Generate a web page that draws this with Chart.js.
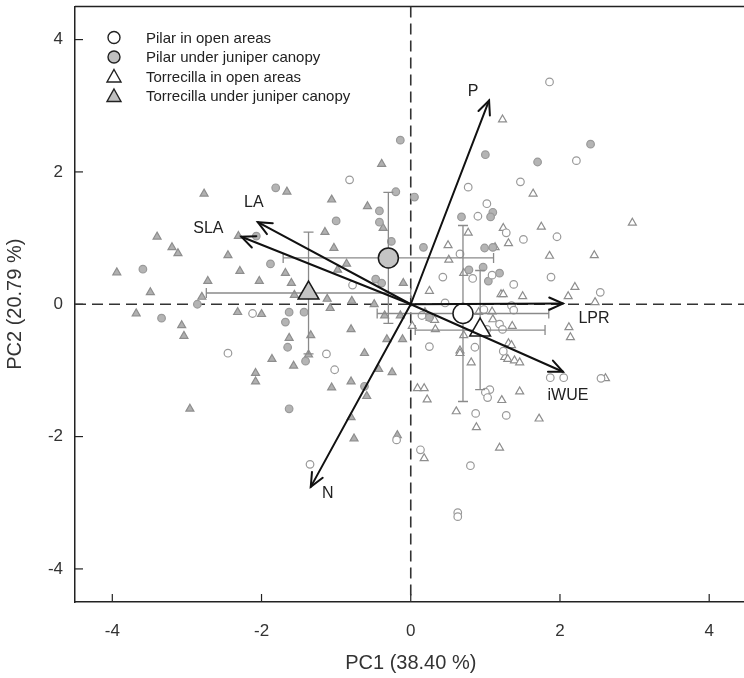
<!DOCTYPE html>
<html>
<head>
<meta charset="utf-8">
<title>PCA biplot</title>
<script src="https://cdn.jsdelivr.net/npm/chart.js"></script>
<style>
  html, body { margin: 0; padding: 0; background: #fff; overflow: hidden; }
  #wrap { width: 760px; height: 678px; overflow: hidden; }
  #chart { display: block; margin-top: -7px; }
</style>
</head>
<body>
<div id="wrap"><canvas id="chart" width="760" height="685"></canvas></div>
<script>
// group labels
const groupNames = [
  "Pilar in open areas",
  "Pilar under juniper canopy",
  "Torrecilla in open areas",
  "Torrecilla under juniper canopy"
];

// individual scores [PC1, PC2]
const pilarOpen = [
  [1.86,3.36],[2.22,2.17],[-0.82,1.88],[0.77,1.77],[1.47,1.85],[0.90,1.33],[1.02,1.52],
  [1.28,1.08],[1.96,1.02],[1.51,0.98],[0.66,0.76],[1.09,0.44],[0.83,0.39],[0.43,0.41],
  [1.38,0.30],[1.88,0.41],[2.54,0.18],[-0.78,0.29],[0.46,0.02],[1.35,-0.02],[1.38,-0.09],
  [0.98,-0.08],[0.15,-0.17],[-2.12,-0.14],[1.19,-0.30],[1.23,-0.38],[1.02,-0.38],
  [0.25,-0.64],[0.86,-0.65],[1.24,-0.71],[-2.45,-0.74],[-1.13,-0.75],[-1.02,-0.99],
  [1.87,-1.11],[2.05,-1.11],[2.55,-1.12],[1.06,-1.29],[1.00,-1.33],[1.03,-1.41],
  [0.87,-1.65],[1.28,-1.68],[-0.19,-2.05],[0.13,-2.20],[0.80,-2.44],[-1.35,-2.42],
  [0.63,-3.15],[0.63,-3.21]
];
const pilarCanopy = [
  [-0.14,2.48],[1.00,2.26],[1.70,2.15],[2.41,2.42],[-0.20,1.70],[0.05,1.62],[-1.81,1.76],
  [-0.42,1.41],[-1.00,1.26],[-0.42,1.24],[-2.07,1.03],[-0.26,0.95],[0.17,0.86],[1.10,1.39],
  [1.07,1.32],[0.68,1.32],[0.99,0.85],[1.10,0.86],[0.78,0.52],[0.97,0.56],[1.19,0.47],
  [1.04,0.35],[-1.88,0.61],[-0.47,0.38],[-0.39,0.32],[-3.59,0.53],[-3.34,-0.21],
  [-1.63,-0.12],[-1.43,-0.12],[-1.68,-0.27],[-1.65,-0.65],[-1.41,-0.86],[-0.62,-1.24],
  [-1.63,-1.58],[0.25,-0.20],[-2.86,0.00]
];
const torrecillaOpen = [
  [1.23,2.79],[1.64,1.67],[0.77,1.08],[1.24,1.15],[1.31,0.92],[1.75,1.17],[0.50,0.89],
  [1.13,0.86],[1.86,0.73],[2.46,0.74],[2.97,1.23],[0.51,0.67],[0.71,0.47],[0.25,0.20],
  [2.20,0.26],[2.11,0.12],[2.47,0.03],[1.21,0.15],[1.24,0.15],[1.50,0.12],[1.09,-0.11],
  [0.91,-0.12],[0.19,-0.12],[0.26,-0.21],[0.32,-0.24],[1.10,-0.23],[1.36,-0.33],
  [0.33,-0.38],[0.02,-0.33],[2.12,-0.35],[2.14,-0.50],[0.71,-0.47],[1.31,-0.59],
  [1.35,-0.62],[0.66,-0.70],[0.66,-0.74],[1.26,-0.80],[1.30,-0.83],[1.39,-0.85],
  [1.46,-0.88],[0.81,-0.88],[2.61,-1.12],[0.09,-1.27],[0.18,-1.27],[0.22,-1.44],
  [1.22,-1.45],[1.46,-1.32],[0.61,-1.62],[1.72,-1.73],[0.88,-1.86],[1.19,-2.17],[0.18,-2.33]
];
const torrecillaCanopy = [
  [-2.77,1.67],[-3.40,1.02],[-3.20,0.86],[-3.12,0.77],[-2.45,0.74],[-2.31,1.03],
  [-3.94,0.48],[-2.29,0.50],[-2.72,0.35],[-3.49,0.18],[-2.80,0.11],[-2.03,0.35],
  [-3.68,-0.14],[-3.07,-0.32],[-3.04,-0.48],[-2.32,-0.12],[-2.00,-0.15],[-2.08,-1.04],
  [-2.08,-1.17],[-2.96,-1.58],[-0.39,2.12],[-1.66,1.70],[-1.06,1.58],[-0.58,1.48],
  [-0.37,1.15],[-1.15,1.09],[-1.03,0.85],[-0.86,0.61],[-0.98,0.52],[-1.68,0.47],
  [-1.60,0.32],[-0.10,0.32],[-1.56,0.14],[-1.12,0.08],[-0.79,0.05],[-0.49,0.00],
  [-1.08,-0.06],[-0.35,-0.17],[-0.14,-0.17],[-1.63,-0.51],[-1.34,-0.47],[-0.80,-0.38],
  [-0.32,-0.53],[-0.11,-0.53],[-1.86,-0.83],[-1.57,-0.93],[-1.37,-0.76],[-0.62,-0.74],
  [-0.43,-0.98],[-0.25,-1.03],[-0.80,-1.17],[-1.06,-1.26],[-0.59,-1.39],[-0.80,-1.71],
  [-0.76,-2.03],[-0.18,-1.98]
];

// group means and their errors [x, y, xErr, yErr]
const groupMeans = [
  [0.70, -0.14, 1.15, 1.33],
  [-0.30, 0.70, 1.41, 0.99],
  [0.93, -0.39, 0.87, 0.90],
  [-1.37, 0.17, 1.37, 0.92]
];

// variable loadings
const varNames = ["P", "LA", "SLA", "LPR", "iWUE", "N"];
const varPC1 = [1.05, -2.05, -2.27, 2.04, 2.04, -1.34];
const varPC2 = [3.08, 1.24, 1.02, 0.01, -1.02, -2.76];

const axisTicks = [-4, -2, 0, 2, 4];

// label offsets from arrow tips (px)
const labelOffset = { P: [-16, -9], LA: [-4, -20], SLA: [-33, -8], LPR: [31, 15], iWUE: [5, 24], N: [17, 7] };

const FONT = "'Liberation Sans', Arial, sans-serif";
const toXY = (arr) => arr.map((p) => ({ x: p[0], y: p[1] }));

const smallStyle = [
  { pointStyle: "circle", backgroundColor: "#ffffff", borderColor: "#9a9a9a", radius: 3.8 },
  { pointStyle: "circle", backgroundColor: "#b4b4b4", borderColor: "#9a9a9a", radius: 3.8 },
  { pointStyle: "triangle", backgroundColor: "#ffffff", borderColor: "#8e8e8e", radius: 4.6 },
  { pointStyle: "triangle", backgroundColor: "#b0b0b0", borderColor: "#8e8e8e", radius: 4.6 }
];
const meanFill = ["#ffffff", "#c4c4c4", "#ffffff", "#c4c4c4"];
const meanStyle = ["circle", "circle", "triangle", "triangle"];

const datasets = [];
groupMeans.forEach((m, i) => {
  datasets.push({
    label: groupNames[i] + " (mean)",
    data: [{ x: m[0], y: m[1] }],
    pointStyle: meanStyle[i],
    pointRadius: i < 2 ? 10 : 12,
    backgroundColor: meanFill[i],
    borderColor: "#1a1a1a",
    borderWidth: 1.5
  });
});
[pilarOpen, pilarCanopy, torrecillaOpen, torrecillaCanopy].forEach((arr, i) => {
  const s = smallStyle[i];
  datasets.push({
    label: groupNames[i],
    data: toXY(arr),
    pointStyle: s.pointStyle,
    pointRadius: s.radius,
    backgroundColor: s.backgroundColor,
    borderColor: s.borderColor,
    borderWidth: 1.2
  });
});

function drawArrow(ctx, x0, y0, x1, y1) {
  const ang = Math.atan2(y1 - y0, x1 - x0);
  const len = 15, spread = 0.42;
  ctx.beginPath();
  ctx.moveTo(x0, y0);
  ctx.lineTo(x1, y1);
  ctx.stroke();
  ctx.beginPath();
  ctx.moveTo(x1 - len * Math.cos(ang - spread), y1 - len * Math.sin(ang - spread));
  ctx.lineTo(x1, y1);
  ctx.lineTo(x1 - len * Math.cos(ang + spread), y1 - len * Math.sin(ang + spread));
  ctx.stroke();
}

const biplot = {
  id: "biplot",
  beforeDatasetsDraw(chart) {
    const { ctx, chartArea: a, scales: { x, y } } = chart;
    ctx.save();
    ctx.strokeStyle = "#222";
    ctx.lineWidth = 1.5;
    ctx.beginPath();
    ctx.moveTo(a.left, a.top);
    ctx.lineTo(a.right, a.top);
    ctx.stroke();
    // inside tick marks
    ctx.lineWidth = 1.2;
    axisTicks.forEach((v) => {
      const px = x.getPixelForValue(v);
      ctx.beginPath();
      ctx.moveTo(px, a.bottom);
      ctx.lineTo(px, a.bottom - 8);
      ctx.stroke();
      const py = y.getPixelForValue(v);
      ctx.beginPath();
      ctx.moveTo(a.left, py);
      ctx.lineTo(a.left + 8, py);
      ctx.stroke();
    });
    // dashed zero lines
    ctx.setLineDash([11, 6]);
    ctx.strokeStyle = "#333";
    ctx.lineWidth = 1.6;
    const x0 = x.getPixelForValue(0), y0 = y.getPixelForValue(0);
    ctx.beginPath();
    ctx.moveTo(a.left, y0);
    ctx.lineTo(a.right, y0);
    ctx.moveTo(x0, a.top);
    ctx.lineTo(x0, a.bottom);
    ctx.stroke();
    ctx.restore();
  },
  afterDatasetDraw(chart, args) {
    if (args.index !== 4) return;
    const { ctx, scales: { x, y } } = chart;
    ctx.save();
    ctx.strokeStyle = "#8a8a8a";
    ctx.lineWidth = 1.3;
    const cap = 5;
    groupMeans.forEach((m) => {
      const cx = x.getPixelForValue(m[0]), cy = y.getPixelForValue(m[1]);
      const xl = x.getPixelForValue(m[0] - m[2]), xr = x.getPixelForValue(m[0] + m[2]);
      const yt = y.getPixelForValue(m[1] + m[3]), yb = y.getPixelForValue(m[1] - m[3]);
      ctx.beginPath();
      ctx.moveTo(xl, cy); ctx.lineTo(xr, cy);
      ctx.moveTo(xl, cy - cap); ctx.lineTo(xl, cy + cap);
      ctx.moveTo(xr, cy - cap); ctx.lineTo(xr, cy + cap);
      ctx.moveTo(cx, yt); ctx.lineTo(cx, yb);
      ctx.moveTo(cx - cap, yt); ctx.lineTo(cx + cap, yt);
      ctx.moveTo(cx - cap, yb); ctx.lineTo(cx + cap, yb);
      ctx.stroke();
    });
    ctx.restore();
  },
  afterDatasetsDraw(chart) {
    const { ctx, chartArea: a, scales: { x, y } } = chart;
    ctx.save();
    // loadings
    ctx.strokeStyle = "#111";
    ctx.lineWidth = 2;
    ctx.lineCap = "round";
    const ox = x.getPixelForValue(0), oy = y.getPixelForValue(0);
    ctx.font = "16px " + FONT;
    ctx.fillStyle = "#222";
    ctx.textAlign = "center";
    ctx.textBaseline = "middle";
    varNames.forEach((name, i) => {
      const tx = x.getPixelForValue(varPC1[i]), ty = y.getPixelForValue(varPC2[i]);
      drawArrow(ctx, ox, oy, tx, ty);
      const off = labelOffset[name];
      ctx.fillText(name, tx + off[0], ty + off[1]);
    });
    // legend
    const lx = a.left + 39, ly = a.top + 31, step = 19.5;
    ctx.font = "15px " + FONT;
    ctx.textAlign = "left";
    groupNames.forEach((name, i) => {
      const cy = ly + i * step;
      ctx.fillStyle = meanFill[i] === "#ffffff" ? "#ffffff" : "#c0c0c0";
      ctx.strokeStyle = "#222";
      ctx.lineWidth = 1.4;
      ctx.beginPath();
      if (meanStyle[i] === "circle") {
        ctx.arc(lx, cy, 6, 0, Math.PI * 2);
      } else {
        ctx.moveTo(lx, cy - 7);
        ctx.lineTo(lx + 7, cy + 5.5);
        ctx.lineTo(lx - 7, cy + 5.5);
        ctx.closePath();
      }
      ctx.fill();
      ctx.stroke();
      ctx.fillStyle = "#222";
      ctx.fillText(name, lx + 32, cy + 1);
    });
    ctx.restore();
  }
};

new Chart(document.getElementById("chart"), {
  type: "scatter",
  data: { datasets },
  options: {
    responsive: false,
    devicePixelRatio: 1,
    animation: false,
    layout: { padding: { top: 6, right: 8, left: 0, bottom: 0 } },
    plugins: { legend: { display: false }, tooltip: { enabled: false } },
    scales: {
      x: {
        type: "linear",
        min: -4.5,
        max: 4.5,
        afterBuildTicks: (s) => { s.ticks = axisTicks.map((v) => ({ value: v })); },
        afterFit: (s) => { s.height = 76; s.paddingLeft = 0; s.paddingRight = 0; },
        grid: { display: false },
        border: { display: true, color: "#222", width: 1.5 },
        ticks: { color: "#333", font: { size: 17, family: FONT }, padding: 11, maxRotation: 0, callback: (v) => String(v) },
        title: { display: true, text: "PC1 (38.40 %)", color: "#333", font: { size: 20, family: FONT }, padding: { top: 0, bottom: 3 } }
      },
      y: {
        type: "linear",
        min: -4.5,
        max: 4.5,
        afterBuildTicks: (s) => { s.ticks = axisTicks.map((v) => ({ value: v })); },
        afterFit: (s) => { s.width = 75; s.paddingTop = 0; s.paddingBottom = 0; },
        grid: { display: false },
        border: { display: true, color: "#222", width: 1.5 },
        ticks: { color: "#333", font: { size: 17, family: FONT }, padding: 4, callback: (v) => String(v) },
        title: { display: true, text: "PC2 (20.79 %)", color: "#333", font: { size: 20, family: FONT }, padding: { top: 3, bottom: 0 } }
      }
    }
  },
  plugins: [biplot]
});
</script>
</body>
</html>
